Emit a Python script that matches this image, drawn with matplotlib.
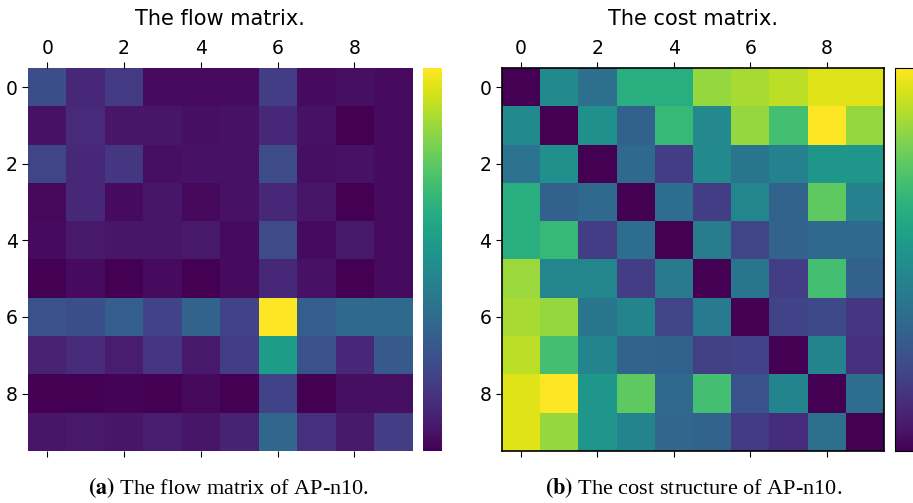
import numpy as np
import matplotlib
matplotlib.use("Agg")
import matplotlib.pyplot as plt

# flow matrix values (normalised)
flow = np.array([
    [0.24, 0.11, 0.17, 0.03, 0.03, 0.03, 0.18, 0.03, 0.04, 0.03],
    [0.05, 0.12, 0.06, 0.06, 0.04, 0.05, 0.11, 0.05, 0.00, 0.03],
    [0.21, 0.11, 0.16, 0.04, 0.05, 0.05, 0.23, 0.04, 0.05, 0.03],
    [0.02, 0.11, 0.03, 0.06, 0.02, 0.05, 0.11, 0.06, 0.00, 0.03],
    [0.03, 0.07, 0.06, 0.06, 0.07, 0.03, 0.23, 0.03, 0.07, 0.03],
    [0.00, 0.03, 0.00, 0.03, 0.00, 0.03, 0.11, 0.05, 0.00, 0.03],
    [0.25, 0.24, 0.30, 0.20, 0.32, 0.20, 1.00, 0.30, 0.34, 0.34],
    [0.09, 0.12, 0.08, 0.15, 0.07, 0.18, 0.55, 0.25, 0.11, 0.28],
    [0.00, 0.00, 0.01, 0.00, 0.02, 0.00, 0.20, 0.00, 0.04, 0.04],
    [0.06, 0.07, 0.06, 0.08, 0.06, 0.10, 0.33, 0.14, 0.07, 0.18],
])

# cost matrix values (normalised)
cost = np.array([
    [0.00, 0.48, 0.37, 0.63, 0.63, 0.84, 0.87, 0.90, 0.95, 0.95],
    [0.48, 0.00, 0.50, 0.31, 0.67, 0.47, 0.84, 0.70, 1.00, 0.84],
    [0.38, 0.50, 0.00, 0.34, 0.18, 0.48, 0.39, 0.44, 0.53, 0.53],
    [0.63, 0.31, 0.34, 0.00, 0.36, 0.18, 0.46, 0.32, 0.75, 0.44],
    [0.63, 0.67, 0.18, 0.36, 0.00, 0.42, 0.21, 0.32, 0.34, 0.34],
    [0.85, 0.46, 0.46, 0.18, 0.41, 0.00, 0.39, 0.18, 0.70, 0.31],
    [0.87, 0.84, 0.39, 0.45, 0.21, 0.41, 0.00, 0.20, 0.22, 0.16],
    [0.90, 0.70, 0.45, 0.32, 0.31, 0.19, 0.20, 0.00, 0.45, 0.14],
    [0.95, 1.00, 0.53, 0.75, 0.34, 0.70, 0.25, 0.45, 0.00, 0.36],
    [0.95, 0.84, 0.52, 0.45, 0.33, 0.32, 0.17, 0.13, 0.37, 0.00],
])

titles = ["The flow matrix.", "The cost matrix."]
captions = [r"$\mathbf{(a)}$ The flow matrix of AP-n10.",
            r"$\mathbf{(b)}$ The cost structure of AP-n10."]
ticks = [0, 2, 4, 6, 8]

plt.rcParams['mathtext.fontset'] = 'stix'

fig = plt.figure(figsize=(9.13, 5.03), dpi=100)

ax_pos = [[0.0307, 0.1034, 0.4206, 0.7614], [0.5498, 0.1034, 0.4184, 0.7614]]
cb_pos = [[0.4633, 0.1034, 0.0208, 0.7614], [0.9803, 0.1034, 0.0208, 0.7614]]
cap_x = [0.25, 0.76]

for i, mat in enumerate([flow, cost]):
    ax = fig.add_axes(ax_pos[i])
    im = ax.matshow(mat, cmap='viridis', aspect='auto', vmin=0, vmax=1)
    ax.set_xticks(ticks)
    ax.set_yticks(ticks)
    ax.tick_params(labelsize=13.5, length=4)
    ax.tick_params(axis='x', bottom=True, labelbottom=False)
    ax.set_title(titles[i], fontsize=15, pad=10)
    cax = fig.add_axes(cb_pos[i])
    cb = fig.colorbar(im, cax=cax)
    cb.set_ticks([])
    if i == 0:
        for s in ax.spines.values():
            s.set_visible(False)
        cb.outline.set_visible(False)
    else:
        for s in ax.spines.values():
            s.set_linewidth(1.2)
    fig.text(cap_x[i], 0.03, captions[i], ha='center', va='center',
             fontsize=16, family='Liberation Serif')

fig.savefig("out.png", dpi=100)
